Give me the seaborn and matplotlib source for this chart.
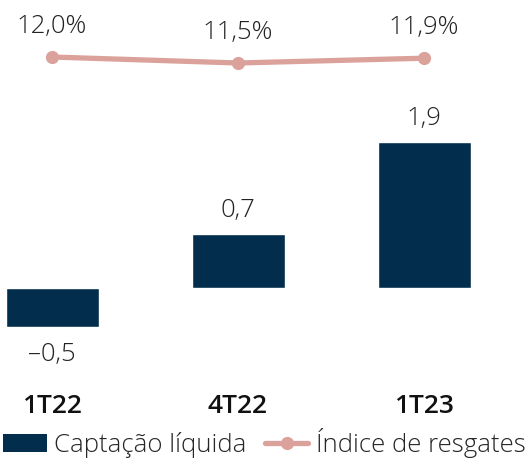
import numpy as np
import pandas as pd
import matplotlib
matplotlib.use("Agg")
import matplotlib.pyplot as plt
import seaborn as sns
from matplotlib.patches import Patch
from matplotlib.lines import Line2D

# dados
trimestres = ["1T22", "4T22", "1T23"]
captacao = [-0.5, 0.7, 1.9]
resgates = [12.0, 11.5, 11.9]
rotulos_captacao = ["–0,5", "0,7", "1,9"]
rotulos_resgates = ["12,0%", "11,5%", "11,9%"]

azul = "#022d4c"
rosa = "#dba29c"

sns.set_style("white")
plt.rcParams["font.family"] = ["Open Sans", "DejaVu Sans"]

df = pd.DataFrame({"trimestre": trimestres, "captacao": captacao,
                   "resgates": resgates, "pos": range(len(trimestres))})

W, H = 529, 459
fig = plt.figure(figsize=(W / 100, H / 100), dpi=100)
# eixo ocupa de y=0 a y=380 px
ax = fig.add_axes([0, 1 - 380 / H, 1, 380 / H])

sns.barplot(data=df, x="trimestre", y="captacao", color=azul, width=0.5,
            saturation=1, ax=ax)
esc = 77
ax.set_xlim(-52 / 186, 2 + (W - 424) / 186)
ax.set_ylim(-(380 - 288) / esc, 288 / esc)

for i, (v, t) in enumerate(zip(captacao, rotulos_captacao)):
    off = 17 if v >= 0 else -20
    ax.annotate(t, (i, v), xytext=(0, off), textcoords="offset points",
                ha="center", va="center", fontsize=18.5, fontweight="light",
                color="#222222")

ax2 = ax.twinx()
sns.lineplot(data=df, x="pos", y="resgates", color=rosa, linewidth=3.8,
             marker="o", markersize=9.5, markeredgewidth=0, ax=ax2)
ax2.set_ylim(12.0 - (380 - 57) / 12, 12.0 + 57 / 12)

for i, (v, t) in enumerate(zip(resgates, rotulos_resgates)):
    ax2.annotate(t, (i, v), xytext=(0, 22), textcoords="offset points",
                 ha="center", va="center", fontsize=18.5, fontweight="light",
                 color="#222222")

for a in (ax, ax2):
    for s in a.spines.values():
        s.set_visible(False)
    a.set_ylabel("")
    a.set_xlabel("")
    a.set_yticks([])

ax.tick_params(axis="x", length=0, pad=10, labelsize=19)
for lbl in ax.get_xticklabels():
    lbl.set_fontweight("semibold")
    lbl.set_color("#111111")

handles = [Patch(facecolor=azul, edgecolor="none"),
           Line2D([0], [0], color=rosa, linewidth=3.8, marker="o",
                  markersize=9.5, markeredgewidth=0)]
fig.legend(handles, ["Captação líquida", "Índice de resgates"],
           loc="center", bbox_to_anchor=(0.5, 1 - 443 / H), ncol=2,
           frameon=False, handlelength=1.7, handletextpad=0.3,
           columnspacing=0.7, borderpad=0,
           prop={"size": 18.5, "weight": "light"})

fig.savefig("out.png", dpi=100)
